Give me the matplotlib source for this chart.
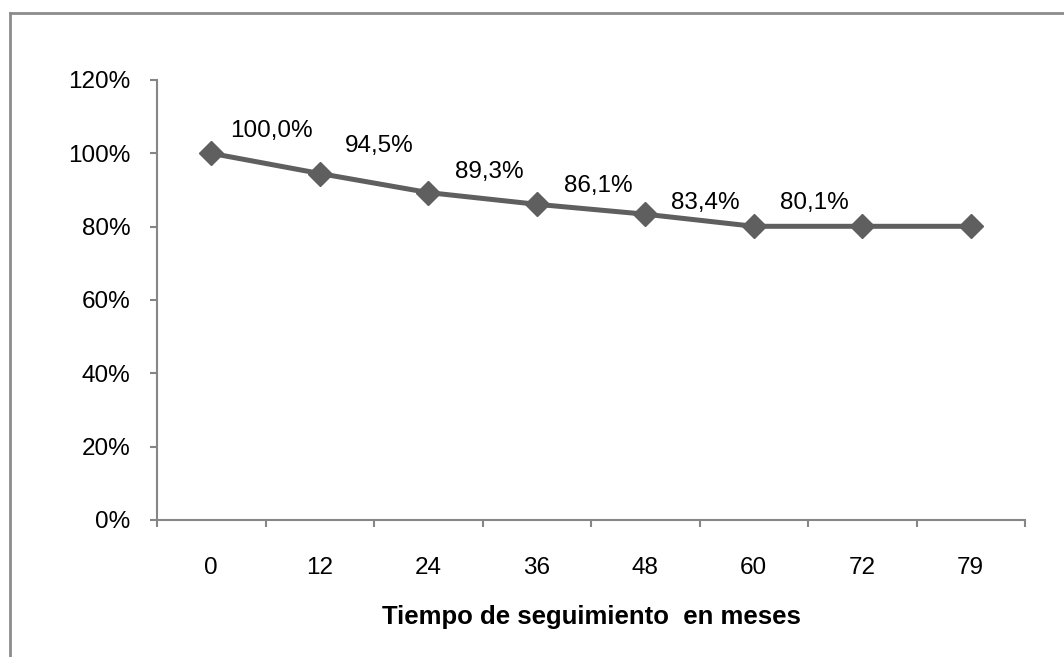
import numpy as np
import matplotlib.pyplot as plt
from matplotlib.lines import Line2D

#---------------------Data---------------------
months = ['0', '12', '24', '36', '48', '60', '72', '79']
survival = [1.000, 0.945, 0.893, 0.861, 0.834, 0.801, 0.801, 0.801]
labels = ['100,0%', '94,5%', '89,3%', '86,1%', '83,4%', '80,1%', '', '']
y_ticks = [0, 0.2, 0.4, 0.6, 0.8, 1.0, 1.2]
y_tick_labels = ['0%', '20%', '40%', '60%', '80%', '100%', '120%']

#---------------------Style---------------------
plt.rcParams['font.family'] = ['Liberation Sans', 'DejaVu Sans']
line_col = '#5f5f5f'
axis_col = '#868686'
fs = 17.5
# label offsets in points (hand placed like the original)
lab_off = [(43, 16), (43, 20), (44, 15), (44, 13), (43, 8), (44, 17), (0, 0), (0, 0)]

fig = plt.figure(figsize=(10.64, 6.57), dpi=100)
ax = fig.add_axes([157/1064, 1-520/657, (1025-157)/1064, (520-80)/657])

x = np.arange(len(months))
ax.plot(x, survival, color=line_col, lw=3.6, marker='D', ms=12.5,
        markerfacecolor=line_col, markeredgecolor=line_col, zorder=3)
for i in range(len(x)):
    if labels[i]:
        ax.annotate(labels[i], (x[i], survival[i]), xytext=lab_off[i],
                    textcoords='offset points', ha='center', va='center',
                    fontsize=fs, color='black')

ax.set_xlim(-0.5, len(months) - 0.5)
ax.set_ylim(0, 1.2)
ax.set_yticks(y_ticks)
ax.set_yticklabels(y_tick_labels, fontsize=fs)
ax.set_xticks(np.arange(-0.5, len(months), 1.0))
ax.set_xticklabels([])
ax.set_xticks(x, minor=True)
ax.set_xticklabels(months, minor=True, fontsize=fs)
ax.tick_params(axis='x', which='major', direction='out', length=5, color=axis_col, width=1.5)
ax.tick_params(axis='x', which='minor', length=0, pad=27)
ax.tick_params(axis='y', direction='out', length=5, color=axis_col, width=1.5, pad=14)

for s in ['top', 'right']:
    ax.spines[s].set_visible(False)
for s in ['left', 'bottom']:
    ax.spines[s].set_color(axis_col)
    ax.spines[s].set_linewidth(1.5)

ax.set_xlabel('Tiempo de seguimiento  en meses', fontsize=18.5, fontweight='bold', labelpad=18.5)

# outer chart border (only left and top visible in the crop)
fig.add_artist(Line2D([10/1064, 10/1064], [0, 1-13/657], transform=fig.transFigure,
                      color='#8c8c8c', lw=2))
fig.add_artist(Line2D([10/1064, 1], [1-13/657, 1-13/657], transform=fig.transFigure,
                      color='#8c8c8c', lw=2))

plt.savefig('out.png', dpi=100)
